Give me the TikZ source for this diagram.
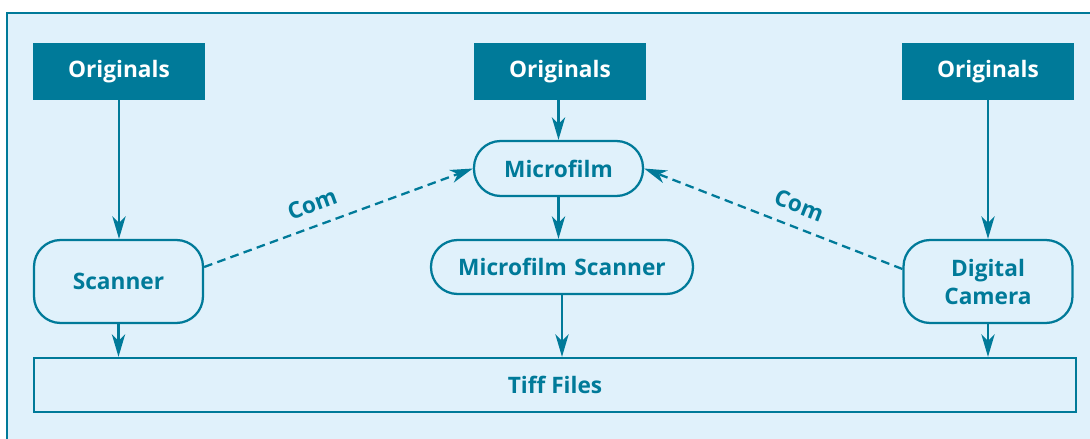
\documentclass[tikz,border=0pt]{standalone}
\usepackage{fontspec}
\setmainfont{Open Sans}
\usetikzlibrary{arrows.meta, positioning}
\definecolor{darkteal}{HTML}{007A99}
\definecolor{paleblue}{HTML}{E0F1FB}

\begin{document}
\begin{tikzpicture}[
	x=0.75pt, y=-0.75pt,
	font=\fontsize{17}{20}\selectfont\bfseries,
	OrigNode/.style={rectangle, fill=darkteal, text=white,
		minimum width=129pt, minimum height=42.75pt, inner sep=0pt},
	StepNode/.style={rectangle, rounded corners=20pt, draw=darkteal, line width=1.7pt,
		text=darkteal, text width=120pt, align=center, minimum width=126.75pt, inner sep=0pt},
	FileNode/.style={rectangle, draw=darkteal, line width=1.7pt, text=darkteal,
		minimum width=781.5pt, minimum height=40.5pt, inner sep=0pt},
	Flow/.style={draw=darkteal, line width=1.7pt, -{Stealth[length=17pt, width=10pt, inset=5pt]}},
	ComFlow/.style={Flow, dash pattern=on 6.5pt off 4pt}
	]

\useasboundingbox (0,0) rectangle (1090,439);
\draw [fill=paleblue, draw=darkteal, line width=1.5pt] (7,13) rectangle (1100,450);

\node [OrigNode] (origA) at (119,71.5) {Originals};
\node [OrigNode] (origB) at (560,71.5) {Originals};
\node [OrigNode] (origC) at (988,71.5) {Originals};

\node [StepNode, minimum height=62.25pt] (scanner) at (118.5,281.5) {Scanner};
\node [StepNode, minimum height=41.25pt] (film) at (558.5,168.5) {Microfilm};
\node [StepNode, minimum height=40.5pt, minimum width=196.5pt, text width=190pt] (filmscan) at (562,267) {Microfilm Scanner};
\node [StepNode, minimum height=62.25pt] (camera) at (988,281.5) {Digital\\[1pt]Camera};

\node [FileNode] (tiff) at (555,385) {Tiff Files};

\draw [Flow] (origA) -- (origA |- scanner.north);
\draw [Flow] (origB.south -| film.north) -- (film.north);
\draw [Flow] (origC) -- (origC |- camera.north);
\draw [Flow] (film) -- (film |- filmscan.north);
\draw [Flow] (scanner) -- (scanner |- tiff.north);
\draw [Flow] (filmscan) -- (filmscan |- tiff.north);
\draw [Flow] (camera) -- (camera |- tiff.north);

\draw [ComFlow] (scanner.east |- 0,267) -- node [pos=0.43, above=6pt, sloped, text=darkteal] {Com} (film.west);
\draw [ComFlow] (camera.west |- 0,269) -- node [pos=0.43, above=6pt, sloped, text=darkteal] {Com} (film.east);

\end{tikzpicture}
\end{document}
